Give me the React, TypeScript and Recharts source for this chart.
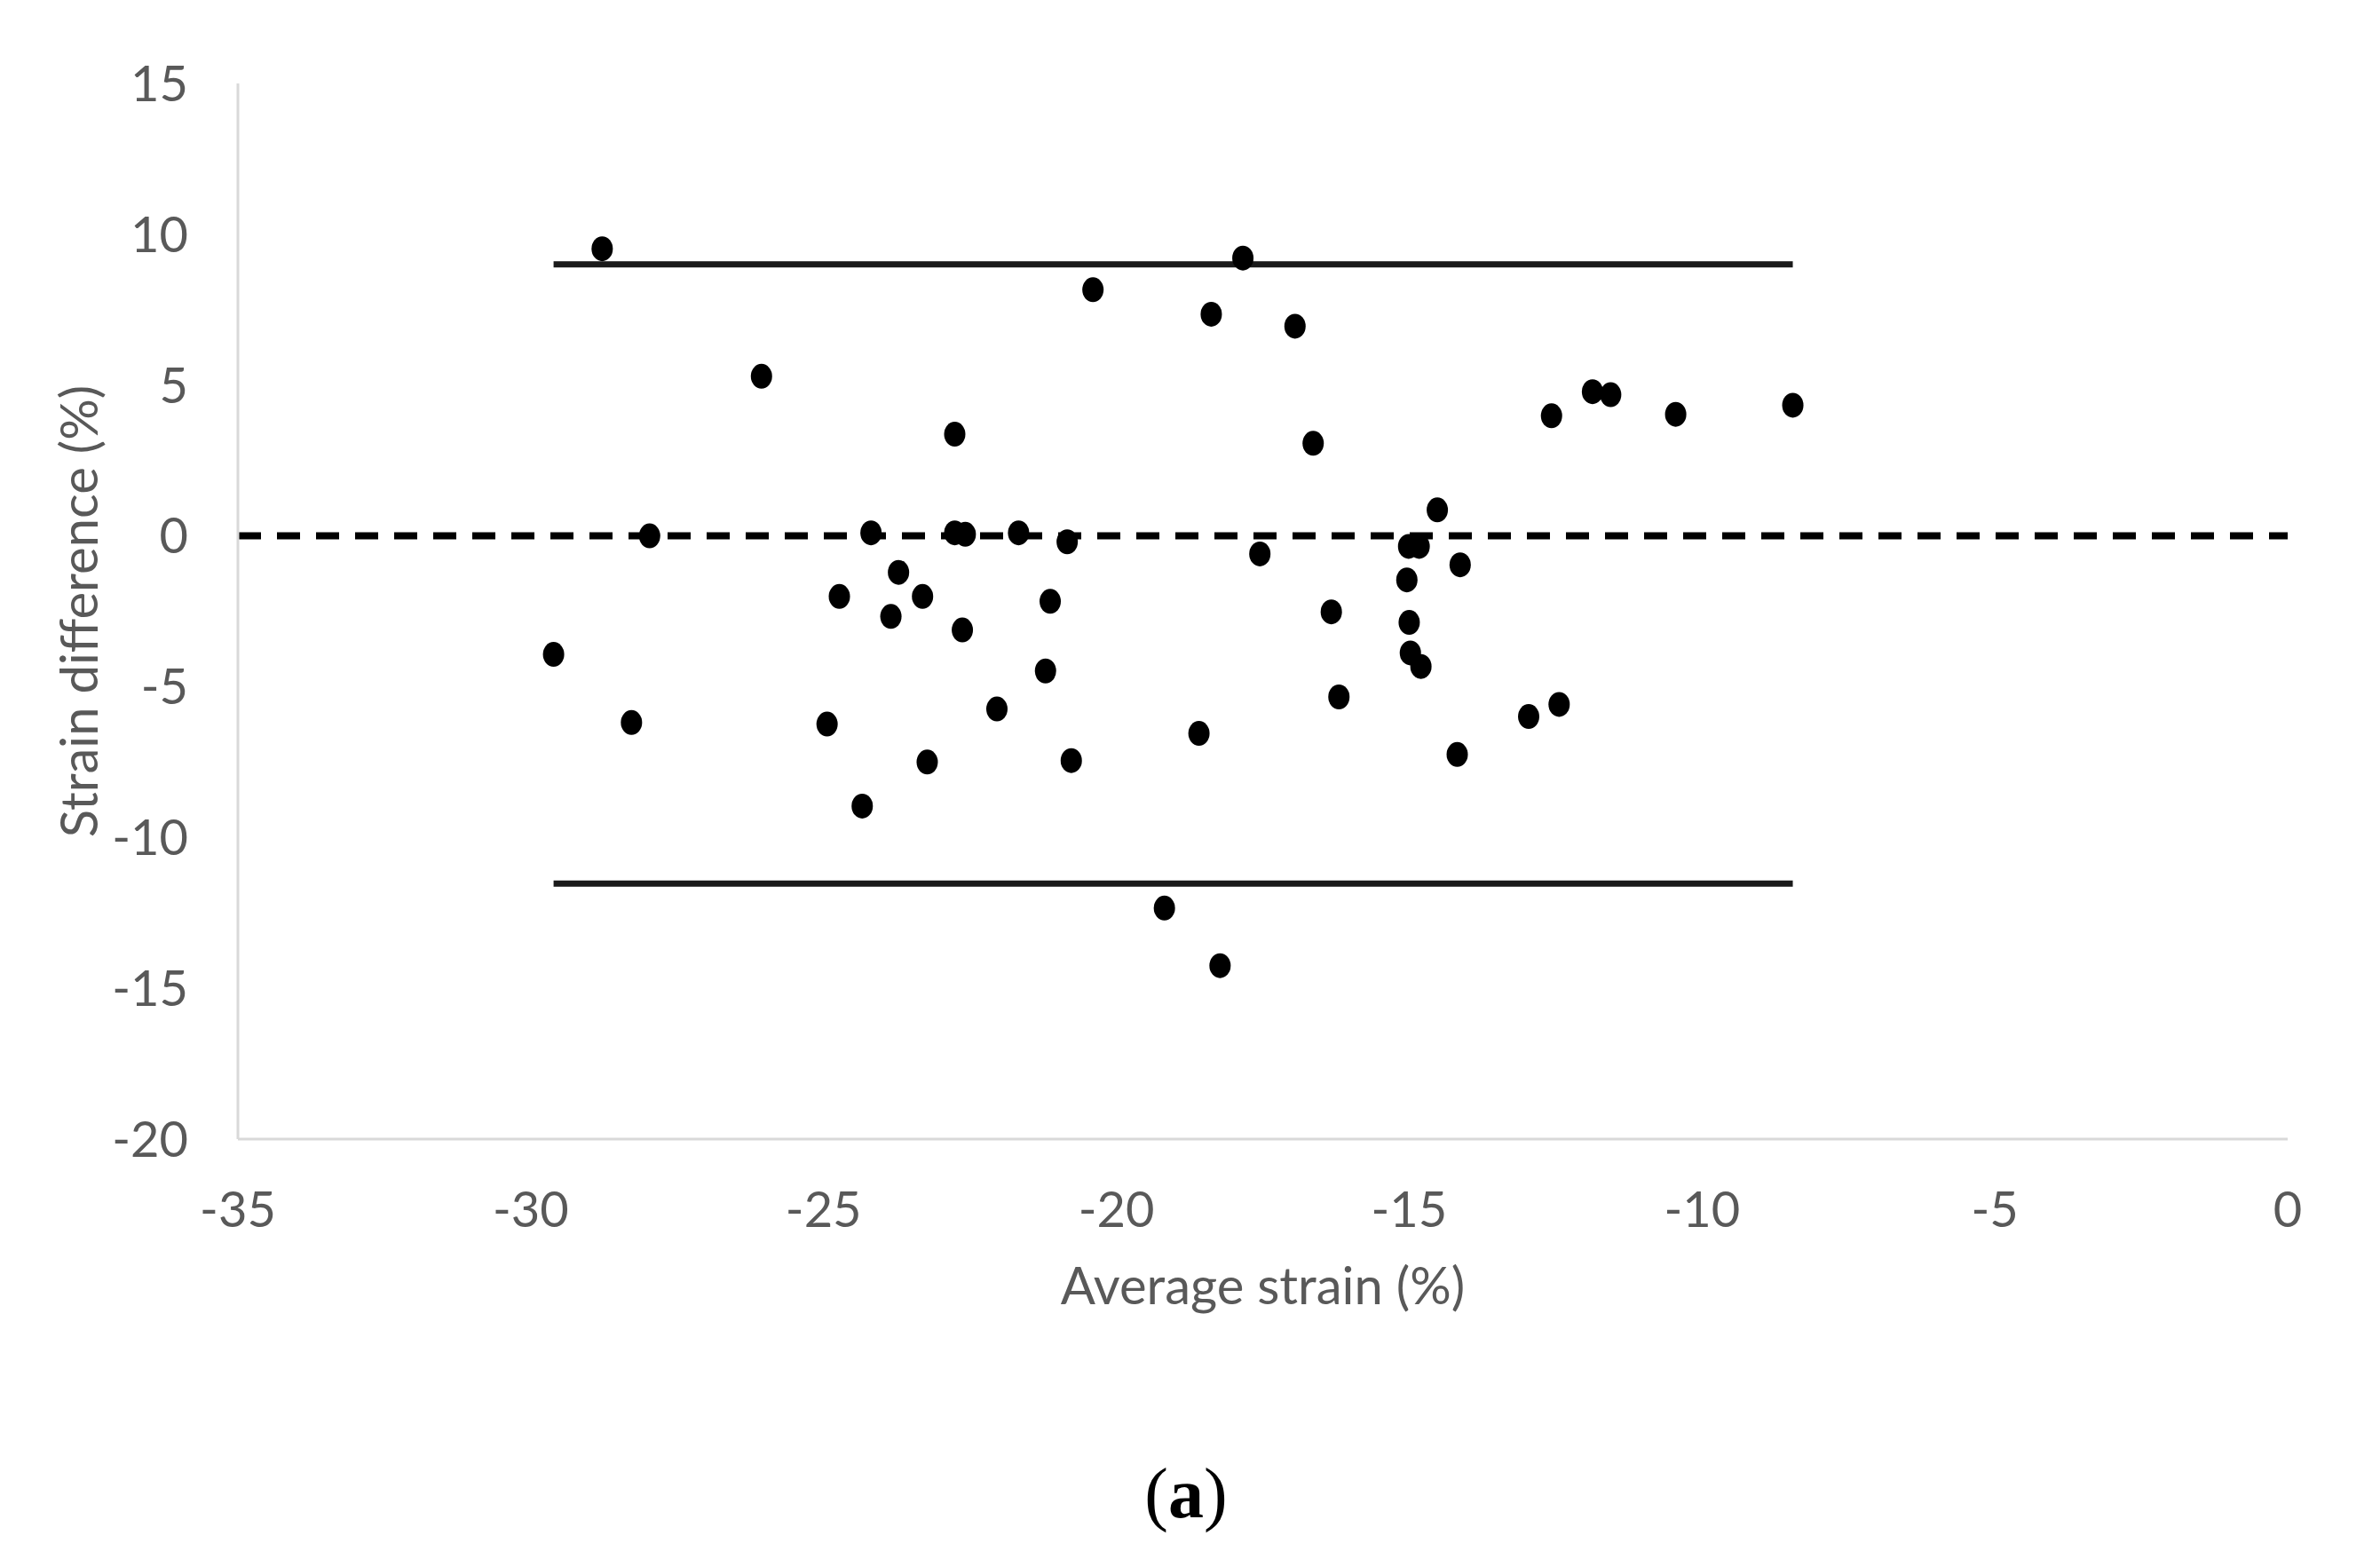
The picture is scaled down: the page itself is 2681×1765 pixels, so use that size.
import React from 'react';
import {
  ScatterChart,
  Scatter,
  XAxis,
  YAxis,
  ZAxis,
  ReferenceLine,
} from 'recharts';

// Bland-Altman style data: average strain vs strain difference (%)
const avgStrain = [
  -28.78, -26.06, -27.97, -29.61, -28.28, -24.73, -24.94, -24.34, -24.19, -23.72,
  -23.85, -23.31, -23.23, -22.76, -22.76, -22.58, -22.63, -22.04, -21.67, -21.13,
  -21.21, -20.84, -20.77, -20.4, -19.18, -18.59, -18.38, -18.23, -17.84, -17.55,
  -16.95, -16.64, -16.33, -16.2, -15.01, -14.83, -15.04, -15.0, -14.98, -14.8,
  -14.52, -14.13, -14.18, -12.96, -12.44, -12.57, -11.87, -11.56, -10.45, -8.45,
];
const strainDiff = [
  9.52, 5.29, 0.0, -3.93, -6.19, -2.01, -6.24, -8.96, 0.1, -1.21,
  -2.67, -2.01, -7.5, 3.37, 0.1, 0.05, -3.12, -5.74, 0.1, -2.17,
  -4.48, -0.2, -7.45, 8.16, -12.34, -6.55, 7.35, -14.25, 9.21, -0.6,
  6.95, 3.07, -2.52, -5.34, -0.35, -0.35, -1.46, -2.87, -3.88, -4.33,
  0.86, -0.96, -7.25, -5.99, -5.59, 3.98, 4.78, 4.68, 4.03, 4.33,
];

const xTicks = [-35, -30, -25, -20, -15, -10, -5, 0];
const yTicks = [-20, -15, -10, -5, 0, 5, 10, 15];

const upperLimit = 9.0;
const lowerLimit = -11.53;
const limitFrom = -29.61;
const limitTo = -8.45;

const points = avgStrain.map((x, i) => ({ x, y: strainDiff[i] }));

const FONT = 'Lato, "Open Sans", sans-serif';
const GREY = '#595959';

const Dot = (props: any) => {
  const { cx, cy } = props;
  if (cx == null || cy == null) return null;
  return <ellipse cx={cx} cy={cy} rx={12} ry={14} fill="#000" />;
};

export default function App() {
  return (
    <div
      style={{
        position: 'absolute',
        left: 0,
        top: 0,
        width: 2681,
        height: 1765,
        background: '#fff',
      }}
    >
      <ScatterChart
        width={2681}
        height={1765}
        margin={{ top: 94, right: 104, bottom: 362, left: 0 }}
      >
        <XAxis
          type="number"
          dataKey="x"
          domain={[-35, 0]}
          ticks={xTicks}
          interval={0}
          height={120}
          axisLine={{ stroke: '#d9d9d9', strokeWidth: 3 }}
          tickLine={false}
          tickMargin={53}
          tick={{ fill: GREY, fontSize: 56, fontFamily: FONT }}
          label={{
            value: 'Average strain (%)',
            position: 'bottom',
            offset: 25,
            fill: GREY,
            fontSize: 58,
            fontFamily: FONT,
          }}
        />
        <YAxis
          type="number"
          dataKey="y"
          domain={[-20, 15]}
          ticks={yTicks}
          interval={0}
          width={268}
          axisLine={{ stroke: '#d9d9d9', strokeWidth: 3 }}
          tickLine={false}
          tickMargin={50}
          tick={{ fill: GREY, fontSize: 56, fontFamily: FONT }}
          label={{
            value: 'Strain difference (%)',
            angle: -90,
            position: 'insideLeft',
            offset: 89,
            fill: GREY,
            fontSize: 58,
            fontFamily: FONT,
            style: { textAnchor: 'middle' },
          }}
        />
        <ZAxis range={[500, 500]} />
        <ReferenceLine
          y={0}
          stroke="#000"
          strokeWidth={8}
          strokeDasharray="26 18"
        />
        <ReferenceLine
          segment={[
            { x: limitFrom, y: upperLimit },
            { x: limitTo, y: upperLimit },
          ]}
          stroke="#1a1a1a"
          strokeWidth={7}
        />
        <ReferenceLine
          segment={[
            { x: limitFrom, y: lowerLimit },
            { x: limitTo, y: lowerLimit },
          ]}
          stroke="#1a1a1a"
          strokeWidth={7}
        />
        <Scatter
          data={points}
          fill="#000"
          shape={<Dot />}
          isAnimationActive={false}
        />
      </ScatterChart>
      <div
        style={{
          position: 'absolute',
          left: 1236,
          width: 200,
          top: 1632,
          textAlign: 'center',
          fontFamily: '"Liberation Serif", serif',
          fontSize: 80,
          lineHeight: '100px',
          color: '#000',
        }}
      >
        (<b>a</b>)
      </div>
    </div>
  );
}
